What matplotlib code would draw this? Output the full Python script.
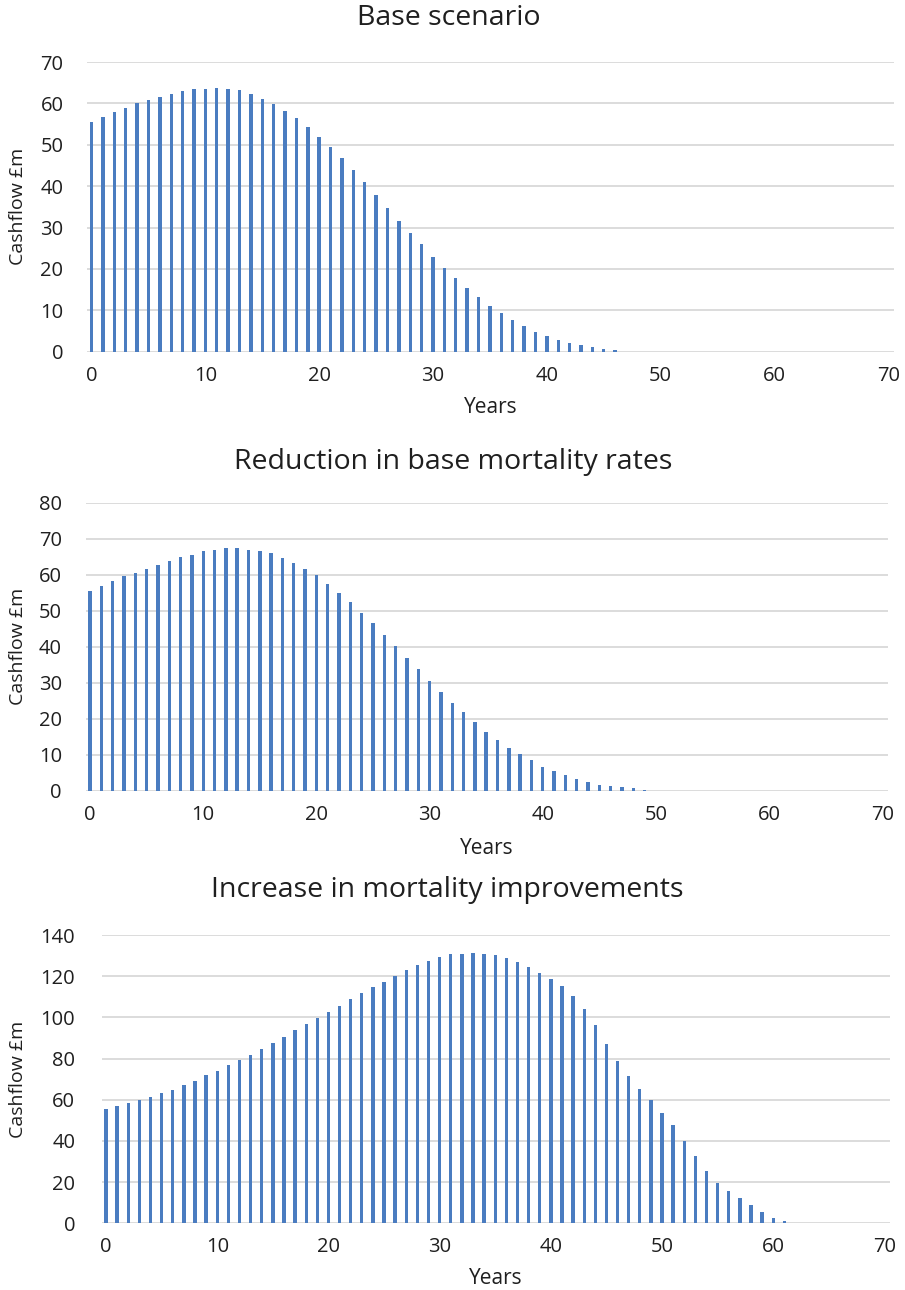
import matplotlib
matplotlib.use("Agg")
import matplotlib.pyplot as plt

# ---------------- data ----------------
titles = ["Base scenario", "Reduction in base mortality rates", "Increase in mortality improvements"]

base_values = [55.5, 56.7, 57.9, 59.0, 60.0, 60.7, 61.5, 62.2, 63.0, 63.4,
               63.4, 63.6, 63.4, 63.2, 62.2, 61.1, 59.8, 58.2, 56.5, 54.4,
               51.9, 49.4, 46.8, 44.0, 41.0, 37.9, 34.7, 31.7, 28.7, 26.0,
               23.0, 20.3, 17.8, 15.4, 13.1, 11.0, 9.3, 7.6, 6.1, 4.8,
               3.8, 2.8, 2.0, 1.5, 1.05, 0.65, 0.3]

reduction_values = [55.6, 57.0, 58.2, 59.6, 60.6, 61.7, 62.8, 63.9, 64.8, 65.6,
                    66.5, 67.0, 67.3, 67.3, 67.0, 66.5, 65.9, 64.7, 63.3, 61.6,
                    59.8, 57.5, 55.0, 52.4, 49.5, 46.5, 43.2, 40.2, 37.0, 33.8,
                    30.6, 27.5, 24.5, 21.9, 19.0, 16.4, 14.2, 12.0, 10.1, 8.4,
                    6.7, 5.5, 4.3, 3.2, 2.3, 1.7, 1.2, 0.9, 0.65, 0.3]

increase_values = [55.3, 56.8, 58.3, 59.9, 61.2, 63.3, 64.7, 67.3, 69.3, 71.8,
                   73.8, 76.7, 79.3, 81.9, 84.8, 87.7, 90.6, 93.9, 96.6, 99.7,
                   102.8, 105.7, 108.7, 111.8, 114.7, 117.3, 120.2, 122.8, 125.4, 127.4,
                   129.1, 130.7, 130.8, 131.2, 130.8, 130.3, 128.6, 126.7, 124.6, 121.7,
                   118.8, 115.2, 110.2, 104.2, 96.1, 87.2, 78.6, 71.7, 65.2, 59.9,
                   53.7, 47.7, 40.1, 32.7, 25.2, 19.6, 15.7, 12.3, 8.7, 5.7,
                   2.75, 1.1]

x_ticks = [0, 10, 20, 30, 40, 50, 60, 70]
y_ticks_base = [0, 10, 20, 30, 40, 50, 60, 70]
y_ticks_reduction = [0, 10, 20, 30, 40, 50, 60, 70, 80]
y_ticks_increase = [0, 20, 40, 60, 80, 100, 120, 140]

x_label = "Years"
y_label = "Cashflow £m"

# ---------------- layout ----------------
W, H = 905, 1290
plt.rcParams['font.family'] = ['Open Sans', 'DejaVu Sans']
fig = plt.figure(figsize=(W / 100, H / 100), dpi=100)

bar_color = "#4A7CC0"
grid_color = "#D9D9D9"
text_color = "#1F1F1F"

# pixel boxes: left, right, top, bottom
boxes = [(87, 894, 62, 351.7), (85.5, 888, 502.7, 790.7), (101.6, 890, 935, 1223.3)]
title_y = [18, 462, 890]
title_x = [449, 453, 447]
xlabel_y = [408, 848, 1278]
series = [base_values, reduction_values, increase_values]
yticks_all = [y_ticks_base, y_ticks_reduction, y_ticks_increase]

for i in range(3):
    l, r, t, b = boxes[i]
    ax = fig.add_axes([l / W, 1 - b / H, (r - l) / W, (b - t) / H])
    vals = series[i]
    yrs = list(range(len(vals)))
    ax.bar(yrs, vals, width=0.3, color=bar_color, zorder=3)
    ax.set_xlim(-0.4, 70.5)
    yt = yticks_all[i]
    ax.set_ylim(0, yt[-1])
    ax.set_yticks(yt)
    ax.set_xticks(x_ticks)
    ax.grid(axis='y', color=grid_color, linewidth=1.3, zorder=0)
    ax.grid(axis='x', visible=False)
    for s in ax.spines.values():
        s.set_visible(False)
    ax.tick_params(length=0, labelsize=14.5, colors=text_color)
    ax.tick_params(axis='x', pad=10)
    ax.tick_params(axis='y', pad=17 if i < 2 else 19)
    ax.set_axisbelow(True)
    fig.text(title_x[i] / W, 1 - title_y[i] / H, titles[i], ha='center', va='center',
             fontsize=20.5, color=text_color)
    fig.text((l + r) / 2 / W, 1 - xlabel_y[i] / H, x_label, ha='center', va='center',
             fontsize=15, color=text_color)
    fig.text(18 / W, 1 - ((t + b) / 2) / H, y_label, ha='center', va='center',
             rotation=90, fontsize=14, color=text_color)

fig.savefig("out.png", dpi=100, facecolor='white')
